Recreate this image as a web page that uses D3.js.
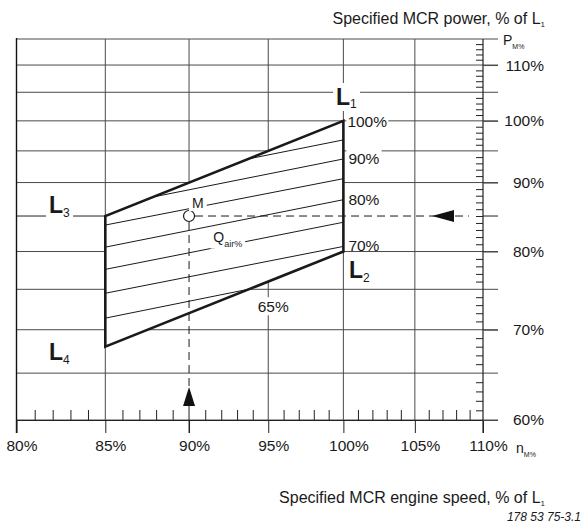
<!DOCTYPE html>
<html>
<head>
<meta charset="utf-8">
<script src="https://cdn.jsdelivr.net/npm/d3@7"></script>
<style>
  body { margin: 0; background: #fff; }
  text { font-family: "Liberation Sans", Arial, sans-serif; fill: #1a1a1a; }
</style>
</head>
<body>
<script>
// Engine layout diagram, log-log, speed vs power

// data
var speedMajor  = [0.80, 0.85, 0.90, 0.95, 1.00, 1.05, 1.10];
var speedLabels = ["80%", "85%", "90%", "95%", "100%", "105%", "110%"];
var powerGrid   = [0.60, 0.65, 0.70, 0.75, 0.80, 0.90, 0.95, 1.00, 1.05, 1.10, 1.15];
var powerMajor  = [0.60, 0.70, 0.80, 0.90, 1.00, 1.10];
var powerLabels = ["60%", "70%", "80%", "90%", "100%", "110%"];

// layout corners L1, L2, L4, L3
var layoutNames = ["1", "2", "4", "3"];
var layoutSpeed = [1.00, 1.00, 0.85, 0.85];
var layoutPower = [1.00, 0.80, 0.68, 0.85];

// scavenge air quantity lines (start / end as [speed, power])
var qStart = [[0.937, 0.937], [0.878, 0.878], [0.85, 0.837], [0.85, 0.806], [0.85, 0.776], [0.85, 0.745], [0.85, 0.714]];
var qEnd   = [[1.00, 0.968], [1.00, 0.937], [1.00, 0.906], [1.00, 0.874], [1.00, 0.841], [1.00, 0.807], [0.937, 0.750]];
var qLabels = ["", "90%", "", "80%", "", "70%", "65%"];

// specified MCR point M
var mSpeed = 0.90, mPower = 0.85;

var W = 585, H = 523;
var xL = 16.5, xR = 483, yT = 39, yB = 420;
var font = 15.5;

var x = d3.scaleLog().domain([0.80, 1.10]).range([xL, xR]);
var y = d3.scaleLog().domain([0.60, 1.15]).range([yB, yT]);

var svg = d3.select("body").append("svg")
    .attr("width", W)
    .attr("height", H);

var gridColor = "#4a4a4a";

// 1. grid
svg.append("g").selectAll("line")
    .data(powerGrid).enter().append("line")
    .attr("x1", xL).attr("x2", xR + 15)
    .attr("y1", function(d) { return y(d); })
    .attr("y2", function(d) { return y(d); })
    .attr("stroke", gridColor).attr("stroke-width", 1);

svg.append("g").selectAll("line")
    .data([0.85, 0.95, 1.00, 1.05]).enter().append("line")
    .attr("x1", function(d) { return x(d); })
    .attr("x2", function(d) { return x(d); })
    .attr("y1", yT).attr("y2", yB)
    .attr("stroke", gridColor).attr("stroke-width", 1);

// 90% only above the layout area
svg.append("line")
    .attr("x1", x(0.90)).attr("x2", x(0.90))
    .attr("y1", yT).attr("y2", y(0.90))
    .attr("stroke", gridColor);

// 85% power left of the layout area
svg.append("line")
    .attr("x1", xL).attr("x2", x(0.85))
    .attr("y1", y(0.85)).attr("y2", y(0.85))
    .attr("stroke", "#222");
svg.append("line")
    .attr("x1", xR).attr("x2", xR + 15)
    .attr("y1", y(0.85)).attr("y2", y(0.85))
    .attr("stroke", "#222");

// left border and right axis
svg.append("line").attr("x1", xL).attr("x2", xL).attr("y1", yT - 1).attr("y2", yB + 13)
    .attr("stroke", "#111").attr("stroke-width", 1.4);
svg.append("line").attr("x1", xR).attr("x2", xR).attr("y1", yT).attr("y2", yB + 13)
    .attr("stroke", "#222").attr("stroke-width", 1.2);

// 2. axes
var bottomAxis = d3.axisBottom(x)
    .tickValues(speedMajor)
    .tickSize(13).tickSizeOuter(0)
    .tickFormat(function(d, i) { return speedLabels[i]; });
var gx = svg.append("g")
    .attr("transform", "translate(0," + yB + ")")
    .call(bottomAxis);
gx.select(".domain").attr("stroke", "#222");
gx.selectAll(".tick line").attr("stroke", "#222");
gx.selectAll(".tick text")
    .attr("dx", 5).attr("y", 20)
    .style("font-size", font + "px").attr("fill", "#1a1a1a");

var minorX = svg.append("g")
    .attr("transform", "translate(0," + yB + ")")
    .call(d3.axisTop(x)
        .tickValues(d3.range(81, 110).filter(function(d) { return d % 5; }).map(function(d) { return d / 100; }))
        .tickSize(10).tickSizeOuter(0).tickFormat(""));
minorX.select(".domain").remove();
minorX.selectAll(".tick line").attr("stroke", "#222");

var minorY = svg.append("g")
    .attr("transform", "translate(" + xR + ",0)")
    .call(d3.axisLeft(y)
        .tickValues(d3.range(61, 115).filter(function(d) { return d % 5 || d == 85; }).map(function(d) { return d / 100; }))
        .tickSize(7).tickSizeOuter(0).tickFormat(""));
minorY.select(".domain").remove();
minorY.selectAll(".tick line").attr("stroke", "#222");

var gy = svg.append("g")
    .attr("transform", "translate(" + xR + ",0)")
    .call(d3.axisRight(y)
        .tickValues(powerMajor)
        .tickSize(15).tickSizeOuter(0)
        .tickFormat(function(d, i) { return powerLabels[i]; }));
gy.select(".domain").remove();
gy.selectAll(".tick line").attr("stroke", gridColor);
gy.selectAll(".tick text")
    .attr("x", 61).attr("text-anchor", "end")
    .style("font-size", font + "px").attr("fill", "#1a1a1a");

// 3. layout area
var corners = layoutSpeed.map(function(s, i) { return [x(s), y(layoutPower[i])]; });
svg.append("path")
    .attr("d", d3.line()(corners) + "Z")
    .attr("fill", "#fff")
    .attr("stroke", "#1a1a1a")
    .attr("stroke-width", 2.6)
    .attr("stroke-linejoin", "miter");

svg.append("g").selectAll("line")
    .data(qStart).enter().append("line")
    .attr("x1", function(d) { return x(d[0]); })
    .attr("y1", function(d) { return y(d[1]); })
    .attr("x2", function(d, i) { return x(qEnd[i][0]); })
    .attr("y2", function(d, i) { return y(qEnd[i][1]); })
    .attr("stroke", "#1a1a1a").attr("stroke-width", 1);

// 4. dashed guides from M
var mx = x(mSpeed), my = y(mPower);
svg.append("line")
    .attr("x1", mx + 6).attr("x2", xR - 14)
    .attr("y1", my).attr("y2", my)
    .attr("stroke", "#1a1a1a").attr("stroke-dasharray", "8,5");
svg.append("line")
    .attr("x1", mx).attr("x2", mx)
    .attr("y1", my + 6).attr("y2", yB - 14)
    .attr("stroke", "#1a1a1a").attr("stroke-dasharray", "8,5");
svg.append("line")
    .attr("x1", mx).attr("x2", mx)
    .attr("y1", yB - 14).attr("y2", yB + 13)
    .attr("stroke", "#222");

// arrows
svg.append("path")
    .attr("d", "M" + (xR - 51) + "," + my + "L" + (xR - 29) + "," + (my - 6) + "L" + (xR - 29) + "," + (my + 6) + "Z")
    .attr("fill", "#111");
svg.append("path")
    .attr("d", "M" + mx + "," + (yB - 33) + "L" + (mx - 6) + "," + (yB - 14) + "L" + (mx + 6) + "," + (yB - 14) + "Z")
    .attr("fill", "#111");

svg.append("circle")
    .attr("cx", mx).attr("cy", my).attr("r", 5.5)
    .attr("fill", "#fff").attr("stroke", "#1a1a1a").attr("stroke-width", 1.2);

// 5. labels
function whiteBehind(t, pad) {
  var b = t.node().getBBox();
  svg.insert("rect", function() { return t.node(); })
      .attr("x", b.x - pad).attr("y", b.y - 1)
      .attr("width", b.width + 2 * pad).attr("height", b.height + 1)
      .attr("fill", "#fff");
}

function subText(px, py, main, sub, size, subSize, anchor, dy) {
  var t = svg.append("text")
      .attr("x", px).attr("y", py)
      .attr("text-anchor", anchor || "start")
      .style("font-size", size + "px");
  t.append("tspan").text(main);
  t.append("tspan").attr("dy", dy).style("font-size", subSize + "px").text(sub);
  return t;
}

// L labels
var lPos = [[336, 105], [349, 278], [49, 360], [49, 213]];
layoutNames.forEach(function(n, i) {
  var t = subText(lPos[i][0], lPos[i][1], "L", n, 23, 12, "start", n == "1" ? 3 : 4);
  t.select("tspan").style("font-weight", "bold");
  if (n == "1" || n == "3") whiteBehind(t, 3);
});

// Q air labels at right edge
qLabels.forEach(function(lab, i) {
  if (!lab || lab == "65%") return;
  var t = svg.append("text")
      .attr("x", x(1.0) + 5).attr("y", y(qEnd[i][1]) + 5)
      .style("font-size", font + "px").text(lab);
  if (lab == "90%") whiteBehind(t, 2);
});
var t100 = svg.append("text")
    .attr("x", x(1.0) + 4).attr("y", y(1.0) + 6)
    .style("font-size", font + "px").text("100%");
whiteBehind(t100, 1);

var t65 = svg.append("text")
    .attr("x", x(0.95) + 5).attr("y", y(0.72) - 1)
    .attr("text-anchor", "middle")
    .style("font-size", font + "px").text("65%");
whiteBehind(t65, 2);

var tm = svg.append("text")
    .attr("x", mx + 3).attr("y", my - 8)
    .style("font-size", "14px").text("M");
whiteBehind(tm, 3);

var tq = subText(x(0.915), y(0.822) + 6, "Q", "air%", 14, 9, "start", 5);
whiteBehind(tq, 3);

// axis titles
subText(545, 24, "Specified MCR power, % of L", "1", 16, 8, "end", 3);
subText(545, 503, "Specified MCR engine speed, % of L", "1", 16, 8, "end", 3);
subText(503, 45, "P", "M%", 14, 7, "start", 4);
subText(516, 453, "n", "M%", 14, 7, "start", 4);

svg.append("text")
    .attr("x", 581).attr("y", 521)
    .attr("text-anchor", "end")
    .style("font-size", "12px").style("font-style", "italic")
    .text("178 53 75-3.1");
</script>
</body>
</html>
